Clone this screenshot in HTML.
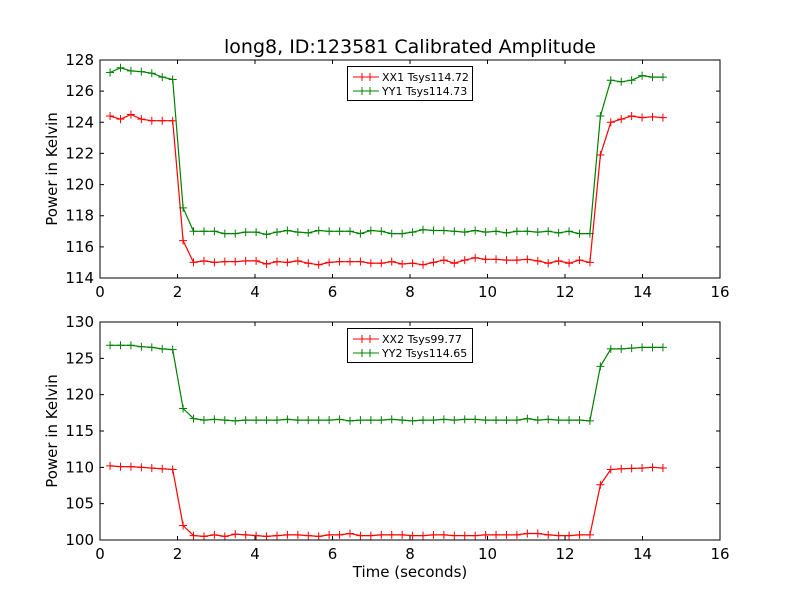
<!DOCTYPE html>
<html><head><meta charset="utf-8"><style>
body{margin:0;background:#fff;}
svg{display:block;font-family:"DejaVu Sans","Liberation Sans",sans-serif;}
</style></head><body>
<svg id="c" width="800" height="600" viewBox="0 0 800 600"></svg>
<script>
const n = 54;
const xStart = 0.26, xStep = 0.2692;
const xx1 = [124.4,124.2,124.5,124.2,124.1,124.1,124.1,116.4,
115.0,115.1,115.0,115.05,115.05,115.1,115.1,114.9,115.05,115.0,115.1,114.95,114.85,115.0,115.05,115.05,115.05,114.95,114.95,115.05,114.9,114.95,114.85,115.0,115.15,114.95,115.15,115.3,115.2,115.2,115.15,115.15,115.2,115.1,114.95,115.1,114.95,115.15,115.0,
121.9,124.0,124.2,124.4,124.3,124.35,124.3];
const yy1 = [127.2,127.5,127.3,127.25,127.15,126.9,126.75,118.5,
117.0,117.0,117.0,116.85,116.85,116.95,116.95,116.8,116.95,117.05,116.95,116.9,117.05,117.0,117.0,117.0,116.85,117.05,117.0,116.85,116.85,116.95,117.1,117.05,117.05,117.0,116.95,117.05,116.95,117.0,116.9,117.0,117.0,116.95,117.0,116.9,117.0,116.85,116.85,
124.4,126.7,126.6,126.7,127.0,126.9,126.9];
const xx2 = [110.2,110.1,110.1,110.0,109.9,109.8,109.7,102.0,
100.6,100.5,100.7,100.5,100.8,100.7,100.6,100.5,100.6,100.7,100.7,100.6,100.5,100.7,100.7,100.9,100.6,100.6,100.7,100.7,100.7,100.6,100.6,100.7,100.7,100.6,100.6,100.6,100.7,100.7,100.7,100.7,100.9,100.9,100.7,100.6,100.6,100.7,100.7,
107.6,109.7,109.8,109.85,109.9,110.0,109.9];
const yy2 = [126.8,126.8,126.8,126.6,126.5,126.3,126.2,118.1,
116.7,116.5,116.6,116.5,116.4,116.5,116.5,116.5,116.5,116.6,116.5,116.5,116.5,116.5,116.6,116.4,116.5,116.5,116.5,116.6,116.5,116.4,116.5,116.5,116.6,116.5,116.6,116.6,116.5,116.5,116.5,116.5,116.7,116.5,116.6,116.5,116.5,116.5,116.4,
123.9,126.3,126.3,126.4,126.5,126.5,126.5];
const xTicks = [0,2,4,6,8,10,12,14,16];
const yTicksTop = [114,116,118,120,122,124,126,128];
const yTicksBot = [100,105,110,115,120,125,130];
const legendTop = ["XX1 Tsys114.72","YY1 Tsys114.73"];
const legendBot = ["XX2 Tsys99.77","YY2 Tsys114.65"];

const svg = document.getElementById('c');
const NS = 'http://www.w3.org/2000/svg';
function mk(tag, attrs, parent){const e=document.createElementNS(NS,tag);for(const k in attrs)e.setAttribute(k,attrs[k]);(parent||svg).appendChild(e);return e;}
const X0=100,X1=720;
function sx(v){return X0+(v-0)/(16-0)*(X1-X0);}

function panel(top,bot,ymin,ymax,yTicks,s1,s2,leg,pname,showXLabel){
  const g=mk('g',{});
  
  
  const sy=v=>bot-(v-ymin)/(ymax-ymin)*(bot-top);
  const series=[[s1,'#ff0000',leg[0]],[s2,'#008000',leg[1]]];
  series.forEach(([arr,col,nm],si)=>{
    const pts=arr.map((v,i)=>sx(xStart+i*xStep).toFixed(1)+','+sy(v).toFixed(1)).join(' ');
    const l=mk('polyline',{points:pts,fill:'none',stroke:col,'stroke-width':1.2},g);
    
    
    arr.forEach((v,i)=>{
      const x=sx(xStart+i*xStep),y=sy(v);
      const m=mk('path',{d:`M${x-4},${y}H${x+4}M${x},${y-4}V${y+4}`,stroke:col,'stroke-width':1},g);
      
      
    });
  });
  const fr=mk('rect',{x:X0,y:top,width:X1-X0,height:bot-top,fill:'none',stroke:'#000','stroke-width':1},g);
  
  
  xTicks.forEach(t=>{
    const x=sx(t);
    mk('path',{d:`M${x},${bot}v-4M${x},${top}v4`,stroke:'#000'},g);
    const tx=mk('text',{x:x,y:bot+19,'font-size':15,'text-anchor':'middle'},g);
    tx.textContent=t;
    
    
  });
  yTicks.forEach(t=>{
    const y=sy(t);
    mk('path',{d:`M${X0},${y}h4M${X1},${y}h-4`,stroke:'#000'},g);
    const tx=mk('text',{x:X0-6,y:y+5,'font-size':15,'text-anchor':'end'},g);
    tx.textContent=t;
    
    
  });
  const yl=mk('text',{x:0,y:0,'font-size':15,'text-anchor':'middle',transform:`translate(57,${(top+bot)/2}) rotate(-90)`},g);
  yl.textContent='Power in Kelvin';
  
  
  const lg=mk('g',{},g);
  
  
  mk('rect',{x:347.5,y:top+6.5,width:125,height:34,fill:'#fff',stroke:'#000'},lg);
  series.forEach(([arr,col,nm],si)=>{
    const y=top+17+si*14;
    mk('path',{d:`M353,${y}H379M362,${y-4}v8M370,${y-4}v8`,stroke:col,'stroke-width':1},lg);
    const t=mk('text',{x:382,y:y+4,'font-size':11},lg);
    t.textContent=nm;
    
    
  });
}
const title=mk('text',{x:410,y:53,'font-size':19,'text-anchor':'middle'});
title.textContent='long8, ID:123581 Calibrated Amplitude';


panel(60,278,114,128,yTicksTop,xx1,yy1,legendTop,'top-panel');
panel(322,540,100,130,yTicksBot,xx2,yy2,legendBot,'bottom-panel');
const xl=mk('text',{x:410,y:577,'font-size':15,'text-anchor':'middle'});
xl.textContent='Time (seconds)';


</script>
</body></html>
